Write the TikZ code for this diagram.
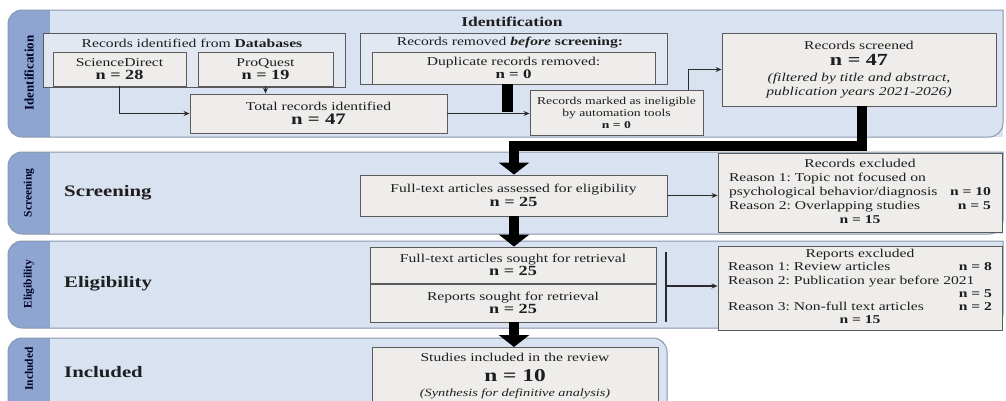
\documentclass[tikz,border=0pt]{standalone}
\usepackage{fontspec}
\setmainfont{Liberation Serif}[FakeStretch=1.3]
\newfontfamily\tabfont{Liberation Serif}
\usetikzlibrary{arrows.meta}
\frenchspacing
\definecolor{tabc}{HTML}{8EA5D1}
\definecolor{panelc}{HTML}{D9E2F1}
\definecolor{outerc}{HTML}{E2E8F2}
\definecolor{boxfill}{HTML}{EEEDEB}
\definecolor{boxline}{HTML}{5A5A5A}
\definecolor{panelline}{HTML}{8A97AE}
\definecolor{linec}{HTML}{2A2A2A}
\definecolor{textc}{HTML}{1E1E1E}
\begin{document}
\begin{tikzpicture}[x=1pt,y=-1pt,
  every node/.style={text=textc},
  box/.style={draw=boxline, fill=boxfill, line width=0.9pt, inner sep=0pt, align=center,
    font=\fontsize{12}{14.5}\selectfont},
  outerbox/.style={box, fill=outerc},
  plain/.style={inner sep=0pt, font=\fontsize{12}{14.5}\selectfont},
  tablabel/.style={rotate=90, inner sep=0pt, font=\tabfont\bfseries\fontsize{11.5}{12}\selectfont, text=black!85!blue},
  biglabel/.style={anchor=west, inner sep=0pt, font=\bfseries\fontsize{16}{16}\selectfont},
  thinarrow/.style={draw=linec, line width=1.6pt, -{Stealth[length=6pt,width=5pt]}},
  thinline/.style={draw=linec, line width=1.6pt},
  bigarrow/.style={draw=black, line width=10pt, line join=miter, -{Triangle[length=12pt,width=30pt]}},
  panelborder/.style={draw=panelline, line width=1pt}
]
\fill[white] (0,0) rectangle (1006,400);
\useasboundingbox (0,0) rectangle (1006,400);

% ---------- panels ----------
% Identification
\fill[tabc] (1003,10) [rounded corners=14pt] -- (8,10) -- (8,137) -- (1003,137) [sharp corners] -- cycle;
\fill[panelc] (50,10) rectangle (1003,137);
\draw[panelborder] (1003,10) [rounded corners=14pt] -- (8,10) -- (8,137) -- (1003,137) [sharp corners] -- cycle;
% Screening
\fill[tabc] (1003,152) [rounded corners=14pt] -- (8,152) -- (8,234) -- (1003,234) [sharp corners] -- cycle;
\fill[panelc] (50,152) rectangle (1003,234);
\draw[panelborder] (1003,152) [rounded corners=14pt] -- (8,152) -- (8,234) -- (1003,234) [sharp corners] -- cycle;
% Eligibility
\fill[tabc] (1003,241) [rounded corners=14pt] -- (8,241) -- (8,328) -- (1003,328) [sharp corners] -- cycle;
\fill[panelc] (50,241) rectangle (1003,328);
\draw[panelborder] (1003,241) [rounded corners=14pt] -- (8,241) -- (8,328) -- (1003,328) [sharp corners] -- cycle;
% Included
\fill[tabc] (8,410) [rounded corners=14pt] -- (8,338) -- (667,338) -- (667,410) [sharp corners] -- cycle;
\fill[panelc] (50,338) [rounded corners=14pt] -- (667,338) -- (667,410) [sharp corners] -- (50,410) -- cycle;
\draw[panelborder] (8,410) [rounded corners=14pt] -- (8,338) -- (667,338) -- (667,410);

% tab labels
\node[tablabel, font=\tabfont\bfseries\fontsize{13}{13}\selectfont] (tab1) at (29,73) {Identification};
\node[tablabel] (tab2) at (29,193) {Screening};
\node[tablabel] (tab3) at (29,284) {Eligibility};
\node[tablabel] (tab4) at (29,369) {Included};

% big labels
\node[inner sep=0pt, font=\bfseries\fontsize{13.5}{14}\selectfont] (title) at (512,22) {Identification};
\node[biglabel] (lab2) at (64,193) {Screening};
\node[biglabel] (lab3) at (64,284) {Eligibility};
\node[biglabel] (lab4) at (64,372) {Included};

% ---------- identification boxes ----------
\node[outerbox, minimum width=302pt, minimum height=54pt] (db) at (194,60) {};
\node[plain] (dbt) at (192,43) {Records identified from \textbf{Databases}};
\node[box, minimum width=133pt, minimum height=34pt] (sd) at (119.5,69)
  {ScienceDirect\\[-1pt]{\bfseries\fontsize{14}{14}\selectfont n = 28}};
\node[box, minimum width=135pt, minimum height=34pt] (pq) at (265.5,69)
  {ProQuest\\[-1pt]{\bfseries\fontsize{14}{14}\selectfont n = 19}};
\node[box, minimum width=257pt, minimum height=39pt] (tot) at (318.5,113.5)
  {Total records identified\\[0pt]{\bfseries\fontsize{16}{16}\selectfont n = 47}};

\node[outerbox, minimum width=307pt, minimum height=51pt] (rb) at (513.5,58.5) {};
\node[plain] (rbt) at (510,43) {Records removed \textbf{\textit{before}} \textbf{screening:}};
\node[box, minimum width=283pt, minimum height=32pt] (dup) at (513.5,68)
  {Duplicate records removed:\\[-2pt]{\bfseries\fontsize{13}{13}\selectfont n = 0}};

\node[box, minimum width=173pt, minimum height=45pt, font=\fontsize{10.5}{12}\selectfont] (mk) at (616.5,112.5)
  {Records marked as ineligible\\by automation tools\\\textbf{n = 0}};

\node[box, minimum width=274pt, minimum height=73pt] (scr) at (859,69.5)
  {Records screened\\[2pt]{\bfseries\fontsize{17}{17}\selectfont n = 47}\\[1pt]
   \textit{(filtered by title and abstract,}\\\textit{publication years 2021-2026)}};

% ---------- screening ----------
\node[box, minimum width=307pt, minimum height=41pt] (fta) at (513.5,195.5)
  {Full-text articles assessed for eligibility\\[-1pt]{\bfseries\fontsize{14}{14}\selectfont n = 25}};
\node[box, minimum width=284pt, minimum height=79pt, font=\fontsize{12}{14}\selectfont] (rex) at (860,192.5)
  {\begin{tabular*}{262pt}{@{}l@{\extracolsep{\fill}}r@{}}
   \multicolumn{2}{@{}c@{}}{Records excluded}\\
   Reason 1: Topic not focused on & \\
   psychological behavior/diagnosis & \textbf{n = 10}\\
   Reason 2: Overlapping studies & \textbf{n = 5}\\
   \multicolumn{2}{@{}c@{}}{\textbf{n = 15}}
   \end{tabular*}};

% ---------- eligibility ----------
\node[box, minimum width=286pt, minimum height=36pt] (fts) at (513,265)
  {Full-text articles sought for retrieval\\[-1pt]{\bfseries\fontsize{14}{14}\selectfont n = 25}};
\node[box, minimum width=286pt, minimum height=38pt] (rsr) at (513,303)
  {Reports sought for retrieval\\[-1pt]{\bfseries\fontsize{14}{14}\selectfont n = 25}};
\node[box, minimum width=284pt, minimum height=84pt, font=\fontsize{12}{13.2}\selectfont] (rpx) at (860,288)
  {\begin{tabular*}{264pt}{@{}l@{\extracolsep{\fill}}r@{}}
   \multicolumn{2}{@{}c@{}}{Reports excluded}\\
   Reason 1: Review articles & \textbf{n = 8}\\
   \multicolumn{2}{@{}l@{}}{Reason 2: Publication year before 2021}\\
   & \textbf{n = 5}\\
   Reason 3: Non-full text articles & \textbf{n = 2}\\
   \multicolumn{2}{@{}c@{}}{\textbf{n = 15}}
   \end{tabular*}};

% ---------- included ----------
\node[box, minimum width=286pt, minimum height=58pt, anchor=north] (inc) at (515,347)
  {Studies included in the review\\[5pt]{\bfseries\fontsize{18}{18}\selectfont n = 10}\\[1pt]
   {\itshape\fontsize{11}{12}\selectfont (Synthesis for definitive analysis)}};

% ---------- connectors ----------
\draw[thinarrow] (sd.south) |- (tot.west);
\draw[thinarrow] (pq.south) -- (pq.south |- tot.north);
\coordinate (dupbar) at (507,112);
\draw[line width=11pt, black] (dup.south -| dupbar) -- (dupbar);
\draw[thinarrow] (tot.east) -- (tot.east -| mk.west);
\draw[thinarrow] ([xshift=-15pt]mk.north east) |- (scr.west);

\coordinate (j1) at (862,146);
\coordinate (j2) at (514,146);
\draw[bigarrow] (scr.south -| j1) -- (j1) -- (j2) -- (fta.north -| j2);

\draw[thinarrow] (fta.east) -- (fta.east -| rex.west);
\draw[bigarrow] (fta.south -| j2) -- (fts.north -| j2);

\coordinate (bt) at (666,252);
\coordinate (bb) at (666,322);
\coordinate (bm) at (666,286);
\draw[thinline] (bt) -- (bb);
\draw[thinarrow] (bm) -- (bm -| rpx.west);

\draw[bigarrow] (rsr.south -| j2) -- (inc.north -| j2);
\end{tikzpicture}
\end{document}
